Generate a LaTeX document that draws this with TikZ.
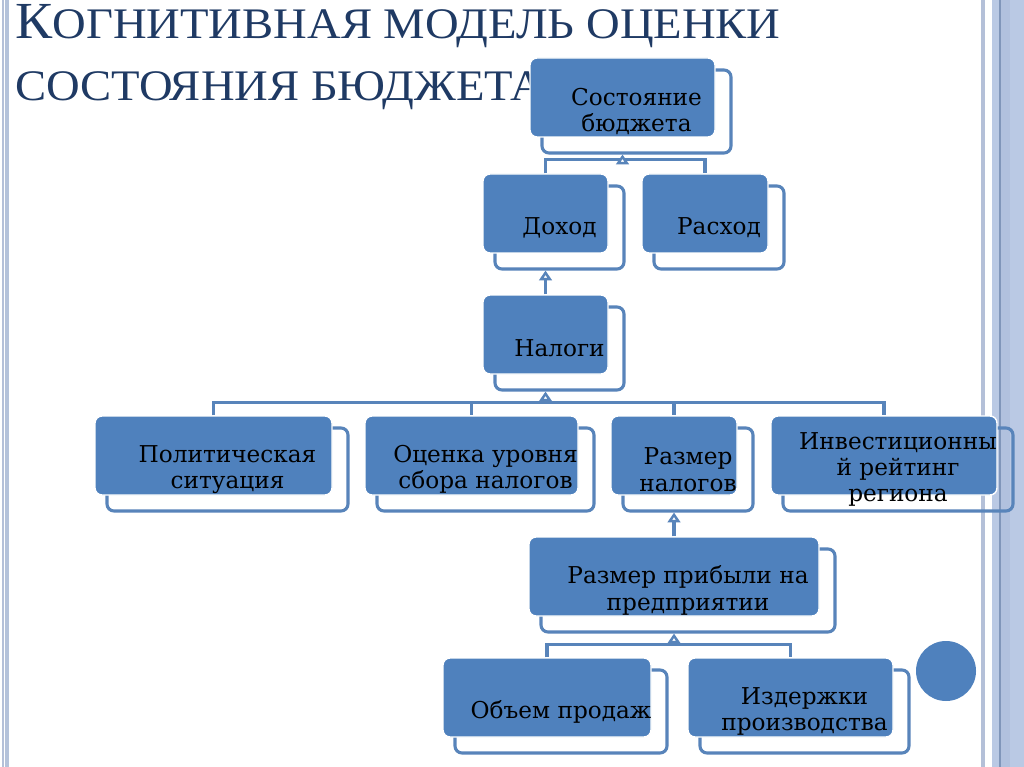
\documentclass[tikz,border=0pt]{standalone}
\usepackage{fontspec}
\setmainfont{DejaVu Serif}
\newfontfamily\titlefont{Liberation Serif}
\usetikzlibrary{arrows.meta,calc}
\definecolor{boxblue}{RGB}{79,129,189}
\definecolor{linkblue}{RGB}{88,132,186}
\definecolor{titleblue}{RGB}{31,58,100}
\definecolor{stripeblue}{RGB}{186,201,228}
\definecolor{stripegray}{RGB}{180,192,216}
\definecolor{stripedark}{RGB}{128,150,186}
\tikzset{
  front/.style={draw=white, line width=1pt, fill=boxblue, rounded corners=5pt,
    inner sep=0pt, minimum height=79*0.025cm},
  back/.style={draw=linkblue, line width=2.2pt, rounded corners=5pt,
    inner sep=0pt, minimum height=83*0.025cm},
  boxtext/.style={align=center, inner sep=0pt, font=\fontsize{16.5}{18.8}\selectfont},
  link/.style={draw=linkblue, line width=2.2pt},
  uplink/.style={link, -{Triangle[open, width=9pt, length=7pt, fill=white]}},
  heading/.style={anchor=base west, inner sep=0pt, text=titleblue,
    font=\titlefont\fontsize{31}{31}\selectfont}
}

\begin{document}
\begin{tikzpicture}[x=0.025cm, y=-0.025cm]
        %Page
        \fill[white] (0,0) rectangle (1024,767);
        \useasboundingbox (0,0) rectangle (1024,767);
        \fill[stripegray] (2,0) rectangle (3.5,767);
        \fill[stripeblue!90!gray] (5,0) rectangle (8.5,767);
        \fill[stripegray] (981,0) rectangle (985,767);
        \fill[stripeblue] (992,0) rectangle (1024,767);
        \fill[stripeblue!85!stripedark] (1000,0) rectangle (1010,767);
        \draw[stripedark, line width=0.8pt] (1000,0) -- (1000,767);
        %Title
        \node[heading] (title1) at (15,39) {\scalebox{1.07}[1]{{\fontsize{37}{37}\selectfont К}ОГНИТИВНАЯ МОДЕЛЬ ОЦЕНКИ}};
        \node[heading] (title2) at (15,101) {\scalebox{1.07}[1]{СОСТОЯНИЯ БЮДЖЕТА}};
        %Back frames
        \node[back, minimum width=189*0.025cm] (budget-b) at (636.5,111.5) {};
        \node[back, minimum width=129*0.025cm] (income-b) at (559.5,227.5) {};
        \node[back, minimum width=130*0.025cm] (expense-b) at (719,227.5) {};
        \node[back, minimum width=129*0.025cm] (taxes-b) at (559.5,348.5) {};
        \node[back, minimum width=241*0.025cm] (politics-b) at (227.5,469.5) {};
        \node[back, minimum width=217*0.025cm] (collection-b) at (485.5,469.5) {};
        \node[back, minimum width=130*0.025cm] (taxsize-b) at (688,469.5) {};
        \node[back, minimum width=230*0.025cm] (rating-b) at (898,469.5) {};
        \node[back, minimum width=294*0.025cm] (profit-b) at (688,590.5) {};
        \node[back, minimum width=212*0.025cm] (sales-b) at (561,711.5) {};
        \node[back, minimum width=209*0.025cm] (costs-b) at (804.5,711.5) {};
        %Boxes
        \node[front, minimum width=185*0.025cm] (budget) at (622.5,97.5) {};
        \node[front, minimum width=125*0.025cm] (income) at (545.5,213.5) {};
        \node[front, minimum width=126*0.025cm] (expense) at (705,213.5) {};
        \node[front, minimum width=125*0.025cm] (taxes) at (545.5,334.5) {};
        \node[front, minimum width=237*0.025cm] (politics) at (213.5,455.5) {};
        \node[front, minimum width=213*0.025cm] (collection) at (471.5,455.5) {};
        \node[front, minimum width=126*0.025cm] (taxsize) at (674,455.5) {};
        \node[front, minimum width=226*0.025cm] (rating) at (884,455.5) {};
        \node[front, minimum width=290*0.025cm] (profit) at (674,576.5) {};
        \node[front, minimum width=208*0.025cm] (sales) at (547,697.5) {};
        \node[front, minimum width=205*0.025cm] (costs) at (790.5,697.5) {};
        \node[circle, fill=boxblue, minimum size=60*0.025cm] (dot) at (946,671) {};
        %Links
        \draw[link] (income.north) -- ++(0,-14) coordinate (bar1) -| (expense.north);
        \draw[uplink] (bar1 -| budget) -- (budget |- budget-b.south);
        \draw[uplink] (taxes.north) -- (income |- income-b.south);
        \draw[link] (politics.north) -- ++(0,-13) coordinate (bar2) -| (rating.north);
        \draw[link] (bar2 -| collection) -- (collection.north);
        \draw[link] (bar2 -| taxsize) -- (taxsize.north);
        \draw[uplink] (bar2 -| taxes) -- (taxes |- taxes-b.south);
        \draw[uplink] (profit.north) -- (taxsize |- taxsize-b.south);
        \draw[link] (sales.north) -- ++(0,-13) coordinate (bar3) -| (costs.north);
        \draw[uplink] (bar3 -| profit) -- (profit |- profit-b.south);
        %Texts
        \node[boxtext] (budget-t) at (budget-b) {Состояние\\бюджета};
        \node[boxtext] (income-t) at (income-b) {Доход};
        \node[boxtext] (expense-t) at (expense-b) {Расход};
        \node[boxtext] (taxes-t) at (taxes-b) {Налоги};
        \node[boxtext] (politics-t) at (politics-b) {Политическая\\ситуация};
        \node[boxtext] (collection-t) at (collection-b) {Оценка уровня\\сбора налогов};
        \node[boxtext] (taxsize-t) at (taxsize-b) {Размер\\налогов};
        \node[boxtext] (rating-t) at (rating-b) {Инвестиционны\\й рейтинг\\региона};
        \node[boxtext] (profit-t) at (profit-b) {Размер прибыли на\\предприятии};
        \node[boxtext] (sales-t) at (sales-b) {Объем продаж};
        \node[boxtext] (costs-t) at (costs-b) {Издержки\\производства};
\end{tikzpicture}
\end{document}
